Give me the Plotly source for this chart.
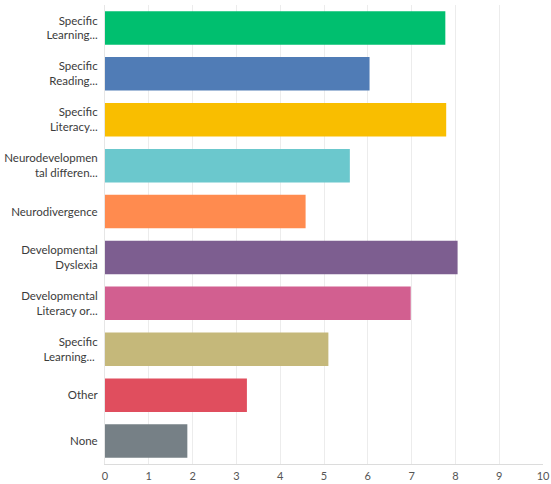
import plotly.graph_objects as go

categories = [
    "Specific<br>Learning...",
    "Specific<br>Reading...",
    "Specific<br>Literacy...",
    "Neurodevelopmen<br>tal differen...",
    "Neurodivergence",
    "Developmental<br>Dyslexia",
    "Developmental<br>Literacy or...",
    "Specific<br>Learning... ",
    "Other",
    "None",
]
values = [7.77, 6.04, 7.79, 5.59, 4.58, 8.05, 6.98, 5.10, 3.24, 1.88]
colors = [
    "#00BF6F", "#507CB6", "#F9BE00", "#6BC8CD", "#FF8B4F",
    "#7D5E90", "#D25F90", "#C5B87A", "#E04E5E", "#768086",
]
x_ticks = list(range(0, 11))

fig = go.Figure(
    go.Bar(
        y=categories,
        x=values,
        orientation="h",
        marker=dict(color=colors, line=dict(width=0)),
        hoverinfo="x+y",
    )
)

fig.update_layout(
    width=551,
    height=484,
    margin=dict(l=105, r=8, t=5, b=20, autoexpand=False),
    paper_bgcolor="white",
    plot_bgcolor="white",
    bargap=0.27,
    showlegend=False,
    font=dict(family="Lato, sans-serif", size=11.5, color="#3b3b3b"),
)
fig.update_xaxes(
    range=[0, 10],
    tickvals=x_ticks,
    showgrid=True,
    gridcolor="#ececec",
    gridwidth=1,
    zeroline=False,
    showline=True,
    linecolor="#dcdcdc",
    ticks="",
    ticklabelstandoff=2,
    tickfont=dict(size=11, color="#555555"),
    automargin=False,
)
fig.update_yaxes(
    autorange="reversed",
    categoryorder="array",
    categoryarray=categories,
    showgrid=False,
    showline=True,
    linecolor="#e6e6e6",
    ticks="",
    ticklabelstandoff=4,
    tickfont=dict(size=11.5, color="#3b3b3b"),
    automargin=False,
)

fig.write_html("out.html")
